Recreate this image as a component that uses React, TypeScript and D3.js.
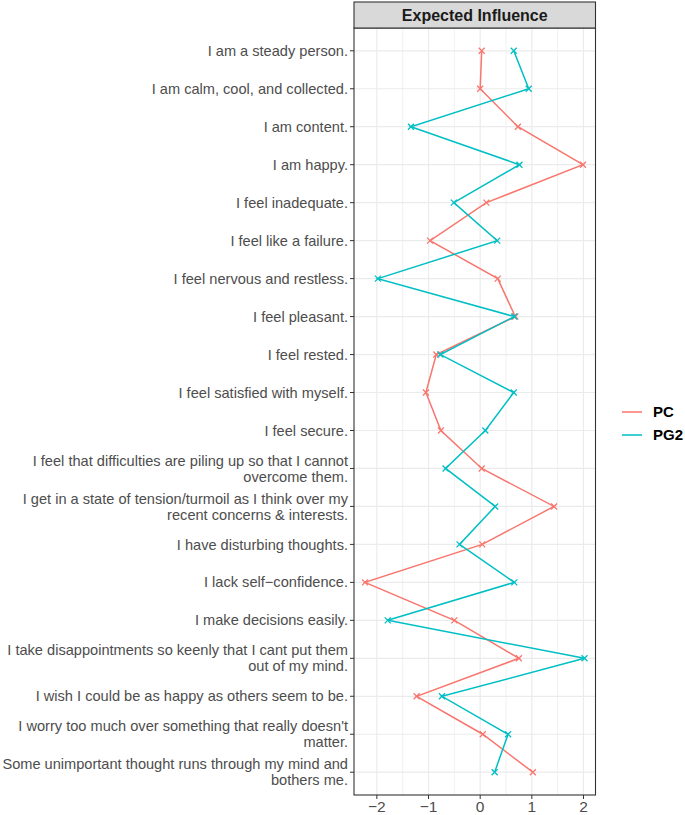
import * as d3 from "d3";

const items = [
  "I am a steady person.",
  "I am calm, cool, and collected.",
  "I am content.",
  "I am happy.",
  "I feel inadequate.",
  "I feel like a failure.",
  "I feel nervous and restless.",
  "I feel pleasant.",
  "I feel rested.",
  "I feel satisfied with myself.",
  "I feel secure.",
  "I feel that difficulties are piling up so that I cannot\novercome them.",
  "I get in a state of tension/turmoil as I think over my\nrecent concerns & interests.",
  "I have disturbing thoughts.",
  "I lack self\u2212confidence.",
  "I make decisions easily.",
  "I take disappointments so keenly that I cant put them\nout of my mind.",
  "I wish I could be as happy as others seem to be.",
  "I worry too much over something that really doesn't\nmatter.",
  "Some unimportant thought runs through my mind and\nbothers me.",
];

const pcValues = [
  0.03, 0.0, 0.73, 1.99, 0.12, -0.97, 0.34, 0.68, -0.85, -1.05,
  -0.76, 0.03, 1.43, 0.04, -2.23, -0.5, 0.75, -1.23, 0.05, 1.02,
];

const pg2Values = [
  0.65, 0.94, -1.34, 0.76, -0.51, 0.33, -1.98, 0.66, -0.77, 0.65,
  0.1, -0.67, 0.29, -0.4, 0.66, -1.79, 2.02, -0.74, 0.54, 0.28,
];

const seriesNames = ["PC", "PG2"];
const seriesColors = ["#F8766D", "#00BFC4"];
const xTicks = [-2, -1, 0, 1, 2];
const xMinor = [-1.5, -0.5, 0.5, 1.5];
const title = "Expected Influence";

const W = 685;
const H = 815;
const panel = { left: 354, right: 595.5, top: 28, bottom: 795 };
const font = "'Liberation Sans', Arial, Helvetica, sans-serif";

export default function App() {
  const allVals = [...pcValues, ...pg2Values];
  const lo = d3.min(allVals) ?? 0;
  const hi = d3.max(allVals) ?? 0;
  const pad = (hi - lo) * 0.05;
  const x = d3
    .scaleLinear()
    .domain([lo - pad, hi + pad])
    .range([panel.left, panel.right]);

  const y = d3
    .scalePoint<string>()
    .domain(items)
    .range([panel.top, panel.bottom])
    .padding(0.6);

  const series = [pcValues, pg2Values];
  const line = d3
    .line<number>()
    .x((d) => x(d))
    .y((_, i) => y(items[i]) ?? 0);

  const fmt = d3.format("d");
  const m = 3;

  return (
    <div style={{ position: "fixed", left: 0, top: 0 }}>
      <svg width={W} height={H} style={{ display: "block", background: "#fff" }}>
        {/* panel */}
        <rect
          x={panel.left}
          y={panel.top}
          width={panel.right - panel.left}
          height={panel.bottom - panel.top}
          fill="#fff"
        />
        {xMinor.map((t) => (
          <line
            key={`mn${t}`}
            x1={x(t)}
            x2={x(t)}
            y1={panel.top}
            y2={panel.bottom}
            stroke="#ebebeb"
            strokeWidth={0.7}
          />
        ))}
        {xTicks.map((t) => (
          <line
            key={`mj${t}`}
            x1={x(t)}
            x2={x(t)}
            y1={panel.top}
            y2={panel.bottom}
            stroke="#ebebeb"
            strokeWidth={1.2}
          />
        ))}
        {items.map((it) => (
          <line
            key={`h${it}`}
            x1={panel.left}
            x2={panel.right}
            y1={y(it)}
            y2={y(it)}
            stroke="#ebebeb"
            strokeWidth={1.2}
          />
        ))}

        {series.map((vals, si) => (
          <g key={seriesNames[si]} stroke={seriesColors[si]} fill="none">
            <path d={line(vals) ?? ""} strokeWidth={1.5} />
            {vals.map((v, i) => {
              const cx = x(v);
              const cy = y(items[i]) ?? 0;
              return (
                <path
                  key={i}
                  d={`M${cx - m},${cy - m}L${cx + m},${cy + m}M${cx - m},${cy + m}L${cx + m},${cy - m}`}
                  strokeWidth={1.3}
                />
              );
            })}
          </g>
        ))}

        <rect
          x={panel.left}
          y={panel.top}
          width={panel.right - panel.left}
          height={panel.bottom - panel.top}
          fill="none"
          stroke="#333333"
          strokeWidth={1.1}
        />

        {/* strip */}
        <rect
          x={panel.left}
          y={2}
          width={panel.right - panel.left}
          height={panel.top - 2}
          fill="#d9d9d9"
          stroke="#333333"
          strokeWidth={1.1}
        />
        <text
          x={(panel.left + panel.right) / 2}
          y={15}
          textAnchor="middle"
          dominantBaseline="central"
          fontFamily={font}
          fontWeight="bold"
          fontSize={16}
          fill="#1a1a1a"
        >
          {title}
        </text>

        {/* y axis */}
        {items.map((it) => {
          const yy = y(it) ?? 0;
          const lines = it.split("\n");
          const lh = 16;
          const off = -((lines.length - 1) * lh) / 2;
          return (
            <g key={`yl${it}`}>
              <line x1={panel.left - 4} x2={panel.left} y1={yy} y2={yy} stroke="#333333" strokeWidth={1} />
              <text
                x={panel.left - 6}
                textAnchor="end"
                fontFamily={font}
                fontSize={14.6}
                fill="#4d4d4d"
              >
                {lines.map((l, k) => (
                  <tspan key={k} x={panel.left - 6} y={yy + off + k * lh} dy="0.35em">
                    {l}
                  </tspan>
                ))}
              </text>
            </g>
          );
        })}

        {/* x axis */}
        {xTicks.map((t) => (
          <g key={`xt${t}`}>
            <line x1={x(t)} x2={x(t)} y1={panel.bottom} y2={panel.bottom + 4} stroke="#333333" strokeWidth={1} />
            <text
              x={x(t)}
              y={panel.bottom + 17}
              textAnchor="middle"
              fontFamily={font}
              fontSize={15.5}
              fill="#4d4d4d"
            >
              {fmt(t).replace("-", "\u2212")}
            </text>
          </g>
        ))}

        {/* legend */}
        {seriesNames.map((n, i) => {
          const ly = 412 + i * 23;
          return (
            <g key={`lg${n}`}>
              <line x1={622} x2={642} y1={ly} y2={ly} stroke={seriesColors[i]} strokeWidth={1.5} />
              <text
                x={653}
                y={ly}
                dy="0.35em"
                fontFamily={font}
                fontWeight="bold"
                fontSize={15}
                fill="#000"
              >
                {n}
              </text>
            </g>
          );
        })}
      </svg>
    </div>
  );
}
